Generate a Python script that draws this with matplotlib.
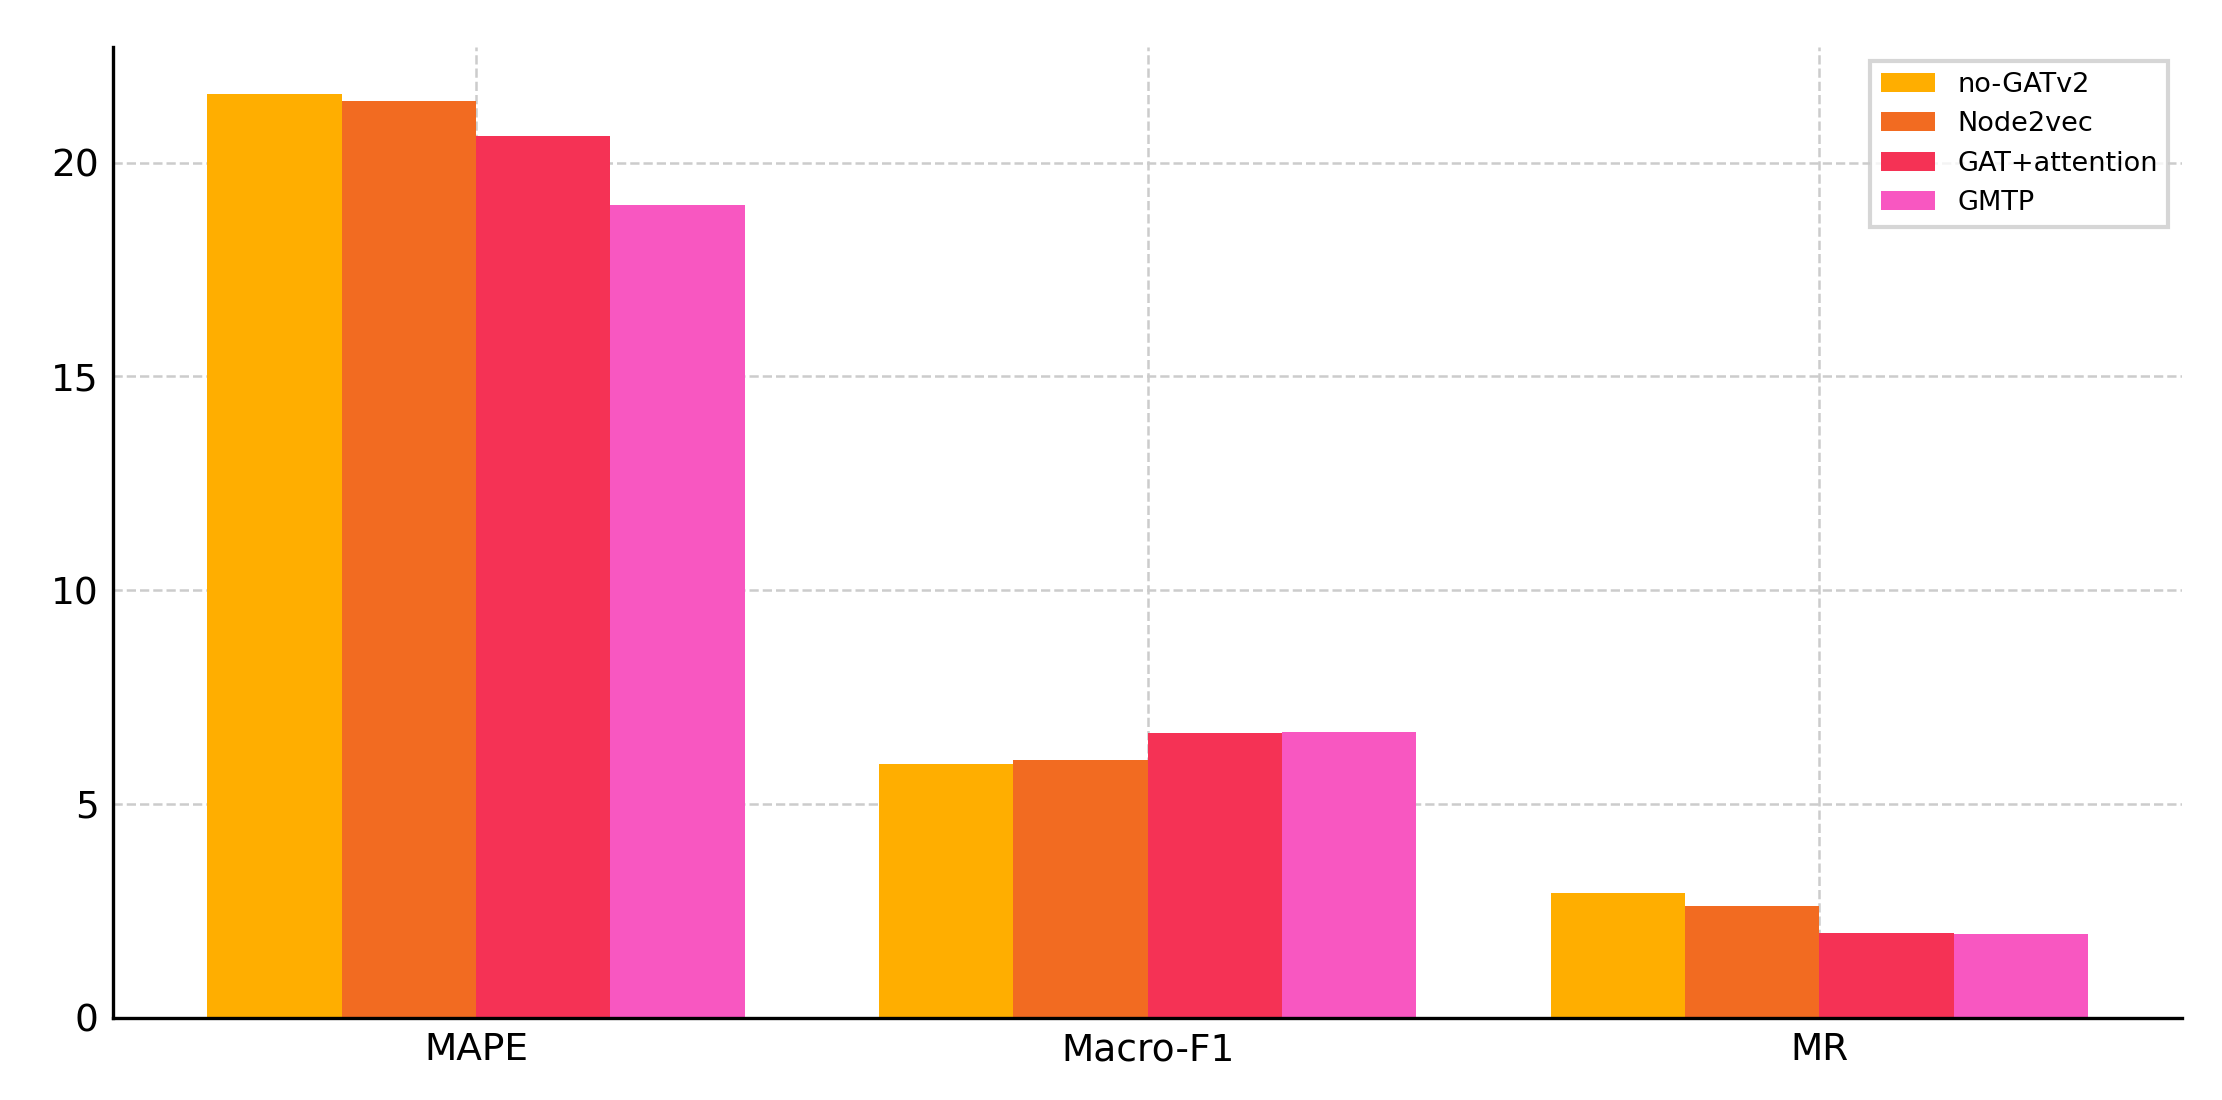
import matplotlib.pyplot as plt
import numpy as np

metrics = ["MAPE", "Macro-F1", "MR"]
models = ["no-GATv2", "Node2vec", "GAT+attention", "GMTP"]
values = {
    "no-GATv2": [21.6, 5.92, 2.92],
    "Node2vec": [21.45, 6.02, 2.62],
    "GAT+attention": [20.62, 6.65, 1.98],
    "GMTP": [19.0, 6.69, 1.95],
}
colors = ["#FFAE00", "#F26B21", "#F53255", "#F857C1"]

fig = plt.figure(figsize=(2222 / 300, 1100 / 300), dpi=300)
ax = fig.add_axes([0.051, 0.075, 0.931, 0.882])

x = np.arange(len(metrics))
width = 0.2
for i, name in enumerate(models):
    ax.bar(x + (i - 1.5) * width, values[name], width, color=colors[i], label=name, zorder=2)

ax.set_xticks(x)
ax.set_xticklabels(metrics, fontsize=9)
ax.set_yticks([0, 5, 10, 15, 20])
ax.tick_params(axis="y", labelsize=9)
ax.tick_params(direction="in", length=0)
ax.set_xlim(-0.54, 2.54)
ax.set_ylim(0, 22.7)
ax.grid(True, linestyle="--", color="#cccccc", linewidth=0.6, zorder=0)
ax.set_axisbelow(True)
for s in ["top", "right"]:
    ax.spines[s].set_visible(False)
ax.legend(loc="upper right", fontsize=6.5, fancybox=False, edgecolor="#cccccc")

fig.savefig("out.png")
